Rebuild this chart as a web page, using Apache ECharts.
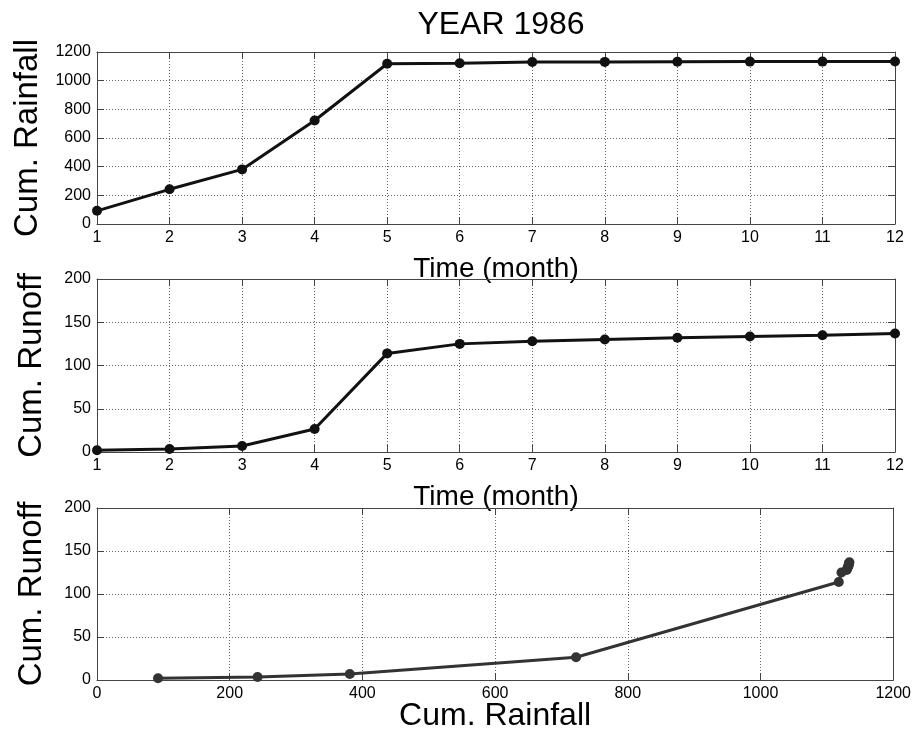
<!DOCTYPE html>
<html>
<head>
<meta charset="utf-8">
<script src="https://cdn.jsdelivr.net/npm/echarts@6/dist/echarts.min.js"></script>
<style>
html,body{margin:0;padding:0;background:#fff;}
#c{width:914px;height:741px;}
</style>
</head>
<body>
<div id="c"></div>
<script>
// Data
var months = [1, 2, 3, 4, 5, 6, 7, 8, 9, 10, 11, 12];
var cumRainfall = [92, 242, 381, 722, 1118, 1122, 1130, 1131, 1132, 1133, 1133, 1134];
var cumRunoff = [2, 3.5, 7, 26.5, 114, 125, 128, 130, 132, 133.5, 135, 137];
var monthTicks = [1, 2, 3, 4, 5, 6, 7, 8, 9, 10, 11, 12];
var rainTicks = [0, 200, 400, 600, 800, 1000, 1200];
var runoffTicks = [0, 50, 100, 150, 200];

var FONT = 'Liberation Sans, Arial, sans-serif';
var chart = echarts.init(document.getElementById('c'), null, {renderer: 'canvas'});

function pairs(xs, ys) {
  return xs.map(function (x, i) { return [x, ys[i]]; });
}

var splitLine = {show: true, lineStyle: {color: '#666', type: [1, 2], width: 1}};
var axisLine = {show: true, onZero: false, lineStyle: {color: '#444', width: 1}};
var axisTick = {show: true, inside: true, length: 7, lineStyle: {color: '#444'}};
var axisLabel = {fontFamily: FONT, fontSize: 16, color: '#000', margin: 6,
  formatter: function (v) { return String(v); }};

function mainX(gi, min, max, interval, name, gap, noMove) {
  var ax = {
    type: 'value', gridIndex: gi, min: min, max: max, interval: interval,
    position: 'bottom', axisLine: axisLine, axisTick: axisTick, axisLabel: axisLabel,
    splitLine: splitLine,
    name: name, nameLocation: 'middle', nameGap: gap,
    nameTextStyle: {fontFamily: FONT, fontSize: name === 'Time (month)' ? 28 : 32, color: '#000'}
  };
  if (noMove) { ax.nameMoveOverlap = false; }
  return ax;
}
function boxX(gi, min, max, interval) {
  return {
    type: 'value', gridIndex: gi, min: min, max: max, interval: interval,
    position: 'top', axisLine: axisLine, axisTick: axisTick,
    axisLabel: {show: false}, splitLine: {show: false}
  };
}
function mainY(gi, min, max, interval, name) {
  return {
    type: 'value', gridIndex: gi, min: min, max: max, interval: interval,
    position: 'left', axisLine: axisLine, axisTick: axisTick, axisLabel: axisLabel,
    splitLine: splitLine,
    name: name, nameLocation: 'middle', nameGap: 49,
    nameTextStyle: {fontFamily: FONT, fontSize: 33, color: '#000'}
  };
}
function boxY(gi, min, max, interval) {
  return {
    type: 'value', gridIndex: gi, min: min, max: max, interval: interval,
    position: 'right', axisLine: axisLine, axisTick: axisTick,
    axisLabel: {show: false}, splitLine: {show: false}
  };
}

var option = {
  animation: false,
  backgroundColor: '#fff',
  title: {
    text: 'YEAR 1986', left: 496, top: 4, textAlign: 'center',
    textStyle: {fontFamily: FONT, fontSize: 32, fontWeight: 'normal', color: '#000'}
  },
  grid: [
    {left: 97, right: 19, top: 52, height: 172, show: false},
    {left: 97, right: 19, top: 279, height: 173, show: false},
    {left: 97, right: 19, top: 508, height: 172, show: false}
  ],
  xAxis: [
    mainX(0, monthTicks[0], monthTicks[monthTicks.length - 1], 1, 'Time (month)', 31),
    mainX(1, monthTicks[0], monthTicks[monthTicks.length - 1], 1, 'Time (month)', 31),
    mainX(2, rainTicks[0], rainTicks[rainTicks.length - 1], 200, 'Cum. Rainfall', 20, true),
    boxX(0, monthTicks[0], monthTicks[monthTicks.length - 1], 1),
    boxX(1, monthTicks[0], monthTicks[monthTicks.length - 1], 1),
    boxX(2, rainTicks[0], rainTicks[rainTicks.length - 1], 200)
  ],
  yAxis: [
    mainY(0, rainTicks[0], rainTicks[rainTicks.length - 1], 200, 'Cum. Rainfall'),
    mainY(1, runoffTicks[0], runoffTicks[runoffTicks.length - 1], 50, 'Cum. Runoff'),
    mainY(2, runoffTicks[0], runoffTicks[runoffTicks.length - 1], 50, 'Cum. Runoff'),
    boxY(0, rainTicks[0], rainTicks[rainTicks.length - 1], 200),
    boxY(1, runoffTicks[0], runoffTicks[runoffTicks.length - 1], 50),
    boxY(2, runoffTicks[0], runoffTicks[runoffTicks.length - 1], 50)
  ],
  series: [
    {
      type: 'line', xAxisIndex: 0, yAxisIndex: 0, data: pairs(months, cumRainfall),
      symbol: 'circle', symbolSize: 10, clip: false,
      lineStyle: {color: '#111', width: 3}, itemStyle: {color: '#111'}
    },
    {
      type: 'line', xAxisIndex: 1, yAxisIndex: 1, data: pairs(months, cumRunoff),
      symbol: 'circle', symbolSize: 10, clip: false,
      lineStyle: {color: '#111', width: 3}, itemStyle: {color: '#111'}
    },
    {
      type: 'line', xAxisIndex: 2, yAxisIndex: 2, data: pairs(cumRainfall, cumRunoff),
      symbol: 'circle', symbolSize: 10, clip: false,
      lineStyle: {color: '#333', width: 3}, itemStyle: {color: '#333'}
    }
  ]
};
chart.setOption(option);
</script>
</body>
</html>
